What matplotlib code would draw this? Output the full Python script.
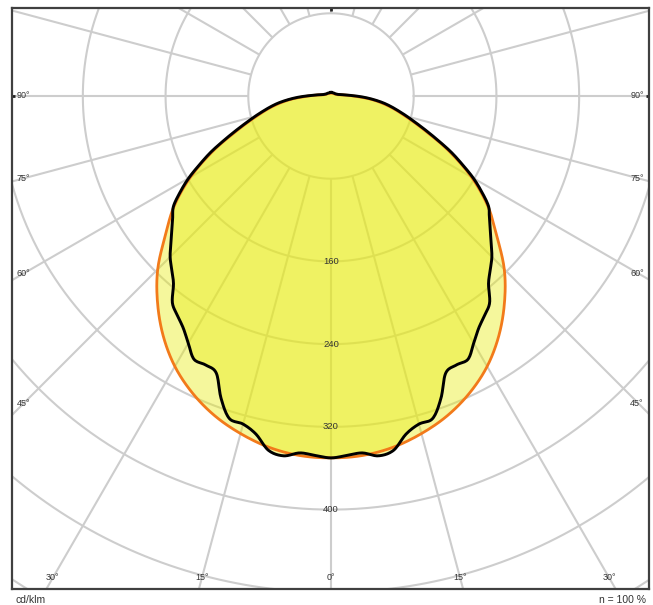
import numpy as np
import matplotlib
matplotlib.use("Agg")
import matplotlib.pyplot as plt

plt.rcParams['font.family'] = ['Liberation Sans', 'DejaVu Sans']

# ---------------- data (cd/klm) ----------------
# C0-C180 plane (orange curve)
c0_angles = [0, 5, 10, 15, 20, 25, 30, 35, 40, 45, 50, 55, 60, 65, 70, 75, 80, 85, 90,
             95, 100, 110, 120, 135, 150, 165, 180]
c0_values = [350, 349, 345, 338, 329, 317, 302, 283, 261, 237, 209, 185, 157, 126, 96, 74, 57, 40, 22,
             12, 7, 5, 4, 3.5, 3, 3, 3]

# C90-C270 plane (black curve)
c90_angles = [0, 2.5, 5, 7.5, 10, 12.5, 15, 17.5, 20, 22.5, 25, 27.5, 30, 32.5, 35, 37.5, 40, 42.5,
              45, 47.5, 50, 52.5, 55, 57.5, 60, 62.5, 65, 67.5, 70, 72.5, 75, 77.5, 80, 82.5, 85,
              87.5, 90, 95, 100, 110, 120, 135, 150, 165, 180]
c90_values = [350, 348, 346.5, 351, 348, 335, 328.5, 327, 311, 290, 287, 287, 276, 266, 259, 252, 237, 228,
              220, 210, 201, 193, 186, 173, 159, 143, 128, 112, 98, 86, 76, 67, 59, 51, 42,
              33, 24, 13, 8, 5.5, 4.5, 4, 3.5, 3.5, 3.5]

grid_radii = [80, 160, 240, 320, 400, 480, 560]
radial_labels = [160, 240, 320, 400]
grid_angles = list(range(0, 360, 15))
side_labels = [90, 75, 60, 45]
bottom_labels = [-30, -15, 0, 15, 30]
unit_text = "cd/klm"
eff_text = "n = 100 %"

# ---------------- figure ----------------
W, H = 653, 605
fig = plt.figure(figsize=(W / 100, H / 100), dpi=100)
px = 1.034  # pixels per cd/klm
cx, cy = 331, 96  # centre in pixels
fl, fr, ft, fb = 12, 649, 8, 589
ax = fig.add_axes([fl / W, (H - fb) / H, (fr - fl) / W, (fb - ft) / H])
ax.set_xlim((fl - cx) / px, (fr - cx) / px)
ax.set_ylim((cy - fb) / px, (cy - ft) / px)

grid_col = '#cdcdcd'
t = np.linspace(0, 2 * np.pi, 721)
for r in grid_radii:
    ax.plot(r * np.cos(t), r * np.sin(t), color=grid_col, lw=1.5, zorder=1)
for a in grid_angles:
    ar = np.radians(a)
    ax.plot([80 * np.sin(ar), 900 * np.sin(ar)], [-80 * np.cos(ar), -900 * np.cos(ar)],
            color=grid_col, lw=1.5, zorder=1, solid_capstyle='butt')


def closed_curve(angles, values):
    a = np.array(angles, float)
    v = np.array(values, float)
    full_a = np.concatenate([-a[::-1][:-1], a[:-1]])
    full_v = np.concatenate([v[::-1][:-1], v[:-1]])
    th = np.radians(full_a)
    x = full_v * np.sin(th)
    y = -full_v * np.cos(th)
    pts = np.column_stack([x, y])
    n = len(pts)
    out = []
    for i in range(n):
        p0, p1, p2, p3 = pts[i - 1], pts[i], pts[(i + 1) % n], pts[(i + 2) % n]
        for s in np.linspace(0, 1, 12, endpoint=False):
            s2, s3 = s * s, s * s * s
            out.append(0.5 * ((2 * p1) + (-p0 + p2) * s + (2 * p0 - 5 * p1 + 4 * p2 - p3) * s2
                              + (-p0 + 3 * p1 - 3 * p2 + p3) * s3))
    out.append(out[0])
    out = np.array(out)
    return out[:, 0], out[:, 1]


fill_col = (232 / 255, 236 / 255, 20 / 255)
xo, yo = closed_curve(c0_angles, c0_values)
xb, yb = closed_curve(c90_angles, c90_values)
ax.fill(xo, yo, color=fill_col, alpha=0.42, lw=0, zorder=2)
ax.fill(xb, yb, color=fill_col, alpha=0.42, lw=0, zorder=3)
ax.plot(xo, yo, color='#f27a1a', lw=2.0, zorder=4)
ax.plot(xb, yb, color='black', lw=2.1, zorder=5)

txt_col = '#333333'
for r in radial_labels:
    ax.text(0, -r, str(r), ha='center', va='center', fontsize=6.8, color=txt_col, zorder=6)

xs = 307 / px
for a in side_labels:
    y = -xs / np.tan(np.radians(a)) if a != 90 else 0.0
    ax.text(-xs - 0.5, y, f"{a}°", ha='center', va='center', fontsize=6.5, color=txt_col, zorder=6)
    ax.text(xs - 1, y, f"{a}°", ha='center', va='center', fontsize=6.5, color=txt_col, zorder=6)
yb0 = -482 / px
for a in bottom_labels:
    x = -yb0 * np.tan(np.radians(a))
    ax.text(x, yb0, f"{abs(a)}°", ha='center', va='center', fontsize=6.5, color=txt_col, zorder=6)

ax.set_xticks([0])
ax.set_yticks([0])
ax.tick_params(axis='x', which='both', bottom=False, top=True, labelbottom=False,
               direction='in', length=2.5, width=2, color='#222222')
ax.tick_params(axis='y', which='both', left=True, right=True, labelleft=False,
               direction='in', length=2.5, width=2, color='#222222')
for s in ax.spines.values():
    s.set_color('#404040')
    s.set_linewidth(1.6)
    s.set_zorder(7)

fig.text(15 / W, 1 - 600 / H, unit_text, ha='left', va='center', fontsize=7.5, color=txt_col)
fig.text(646 / W, 1 - 600 / H, eff_text, ha='right', va='center', fontsize=7.5, color=txt_col)

fig.savefig("out.png", dpi=100)
